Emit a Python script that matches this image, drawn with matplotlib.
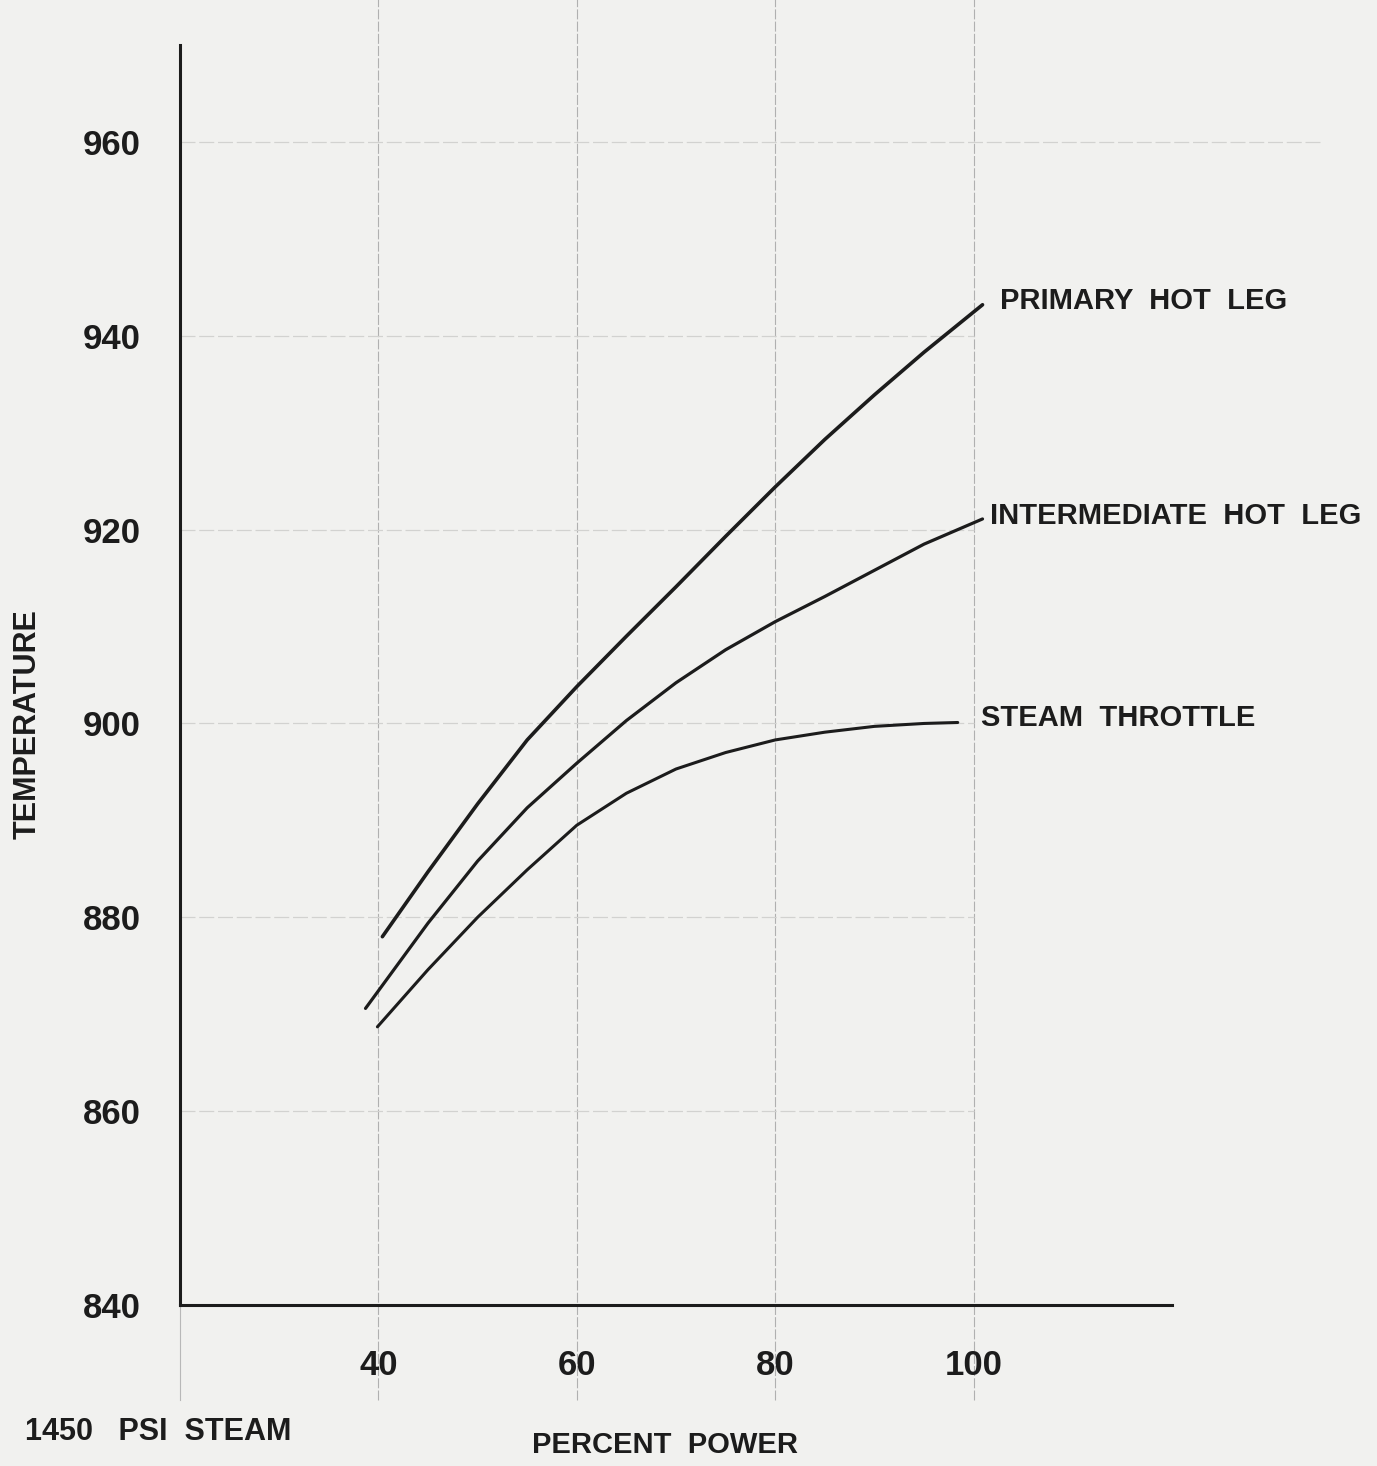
import matplotlib.pyplot as plt

# values (percent power vs temperature)
primary_x = [40.4, 45, 50, 55, 60, 65, 70, 75, 80, 85, 90, 95, 100.9]
primary_y = [878.0, 884.7, 891.7, 898.3, 903.8, 909.0, 914.1, 919.3, 924.4, 929.3, 933.9, 938.3, 943.2]

inter_x = [38.7, 45, 50, 55, 60, 65, 70, 75, 80, 85, 90, 95, 100.9]
inter_y = [870.6, 879.4, 885.8, 891.3, 895.9, 900.3, 904.2, 907.6, 910.5, 913.1, 915.8, 918.5, 921.1]

steam_x = [39.9, 45, 50, 55, 60, 65, 70, 75, 80, 85, 90, 95, 98.4]
steam_y = [868.7, 874.6, 880.0, 884.9, 889.5, 892.8, 895.3, 897.0, 898.3, 899.1, 899.7, 900.0, 900.1]

x_ticks = [40, 60, 80, 100]
y_ticks = [840, 860, 880, 900, 920, 940, 960]

labels = ["PRIMARY  HOT  LEG", "INTERMEDIATE  HOT  LEG", "STEAM  THROTTLE"]
label_pos = [(102.7, 943.6), (101.7, 921.4), (100.7, 900.6)]

plt.rcParams['font.family'] = ['Liberation Sans', 'DejaVu Sans']
bg = '#f1f1ef'
ink = '#1c1c1c'

fig = plt.figure(figsize=(13.77, 14.66), dpi=100, facecolor=bg)
ax = fig.add_axes([180/1377, 1 - 1305/1466, 992/1377, 1260/1466])
ax.set_facecolor(bg)

ax.set_xlim(20, 120)
ax.set_ylim(840, 970)

# faint grid, some lines run past the frame like on the original sheet
for xv in x_ticks:
    ax.axvline(xv, ymin=-0.075, ymax=1.04, color='#b0b0b0', lw=0.8, ls=(0, (9, 2)), clip_on=False, zorder=1)
ax.axvline(20, ymin=-0.075, ymax=0, color='#b8b8b8', lw=0.8, clip_on=False, zorder=1)
for yv in y_ticks[1:]:
    xmax = 1.15 if yv == 960 else 0.8
    ax.axhline(yv, xmin=0, xmax=xmax, color='#d2d2d0', lw=0.9, ls=(0, (12, 3)), clip_on=False, zorder=1)

ax.plot(primary_x, primary_y, color=ink, lw=2.6, solid_capstyle='round', solid_joinstyle='round', zorder=3)
ax.plot(inter_x, inter_y, color=ink, lw=2.3, solid_capstyle='round', solid_joinstyle='round', zorder=3)
ax.plot(steam_x, steam_y, color=ink, lw=2.2, solid_capstyle='round', solid_joinstyle='round', zorder=3)

for txt, (lx, ly) in zip(labels, label_pos):
    ax.text(lx, ly, txt, fontsize=21, fontweight='bold', color=ink, ha='left', va='center', clip_on=False)

for s in ['top', 'right']:
    ax.spines[s].set_visible(False)
for s in ['left', 'bottom']:
    ax.spines[s].set_linewidth(2.2)
    ax.spines[s].set_color(ink)

ax.set_xticks(x_ticks)
ax.set_yticks(y_ticks)
ax.tick_params(length=0, labelsize=25, colors=ink)
ax.tick_params(axis='x', pad=32)
ax.tick_params(axis='y', pad=28)
for t in ax.get_xticklabels() + ax.get_yticklabels():
    t.set_fontweight('bold')

fig.text(28/1377, 1 - 724/1466, "TEMPERATURE", rotation=90, fontsize=22, fontweight='bold',
         color=ink, ha='center', va='center')
fig.text(665/1377, 1 - 1445/1466, "PERCENT  POWER", fontsize=21, fontweight='bold',
         color=ink, ha='center', va='center')
fig.text(25/1377, 1 - 1432/1466, "1450   PSI  STEAM", fontsize=22, fontweight='bold',
         color=ink, ha='left', va='center')

fig.savefig('out.png', dpi=100, facecolor=bg)
